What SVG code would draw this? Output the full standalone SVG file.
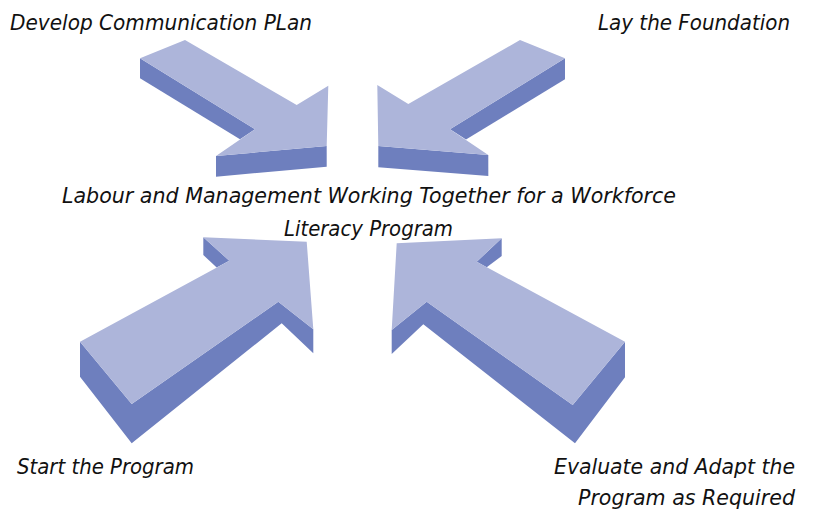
<svg xmlns="http://www.w3.org/2000/svg" width="813" height="512" viewBox="0 0 813 512">
<style>
.top{fill:#adb5da}
.side{fill:#6e7fbe}
text{font-family:"DejaVu Sans Condensed","Liberation Sans",sans-serif;font-style:italic;font-size:21px;fill:#111}
</style>
<rect width="813" height="512" fill="#fff"/>
<g id="connectors">
<g id="arrow-develop">
<polygon class="side" points="140,58.3 140,78.3 240,139.3 255,129.3"/>
<polygon class="side" points="216,156 216,176.7 326.7,166.7 326.7,146"/>
<polygon class="top" points="140,58.3 185,40 296.7,105 328.3,85.7 326.7,146 216,156 255,129.3"/>
</g>
<g id="arrow-foundation">
<polygon class="side" points="565,58.3 565,79.3 466,139.5 450,129.3"/>
<polygon class="side" points="378.3,146 378.3,167.3 488.3,176 488.3,155"/>
<polygon class="top" points="565,58.3 520,40 408.3,104 377.3,85 378.3,146 488.3,155 450,129.3"/>
</g>
<g id="arrow-start">
<polygon class="side" points="203.3,237.3 203.3,255 216.7,267.5 229.3,260.7"/>
<polygon class="side" points="80,341.7 80,376.7 131.7,443.3 281.7,323.3 313.3,353.3 313.3,329.3 278.3,301.7 131.7,404"/>
<polygon class="top" points="203.3,237.3 306.7,241.7 313.3,329.3 278.3,301.7 131.7,404 80,341.7 229.3,260.7"/>
</g>
<g id="arrow-evaluate">
<polygon class="side" points="501.7,238.3 501.7,256 486.7,267.3 476.7,261.7"/>
<polygon class="side" points="391.7,330 391.7,354 423.3,324.3 575,443.3 625,377.3 625,341.7 572.7,405 426.7,301.7"/>
<polygon class="top" points="391.7,330 396.7,243.3 501.7,238.3 476.7,261.7 625,341.7 572.7,405 426.7,301.7"/>
</g>
</g>
<g id="node-develop"><text x="10" y="30" textLength="302" lengthAdjust="spacingAndGlyphs">Develop Communication PLan</text></g>
<g id="node-foundation"><text x="598" y="30" textLength="192" lengthAdjust="spacingAndGlyphs">Lay the Foundation</text></g>
<g id="node-center">
<text x="62" y="203" textLength="614" lengthAdjust="spacingAndGlyphs">Labour and Management Working Together for a Workforce</text>
<text x="284" y="236" textLength="169" lengthAdjust="spacingAndGlyphs">Literacy Program</text>
</g>
<g id="node-start"><text x="17" y="474" textLength="177" lengthAdjust="spacingAndGlyphs">Start the Program</text></g>
<g id="node-evaluate">
<text x="554" y="474" textLength="241" lengthAdjust="spacingAndGlyphs">Evaluate and Adapt the</text>
<text x="578" y="505" textLength="217" lengthAdjust="spacingAndGlyphs">Program as Required</text>
</g>
</svg>
